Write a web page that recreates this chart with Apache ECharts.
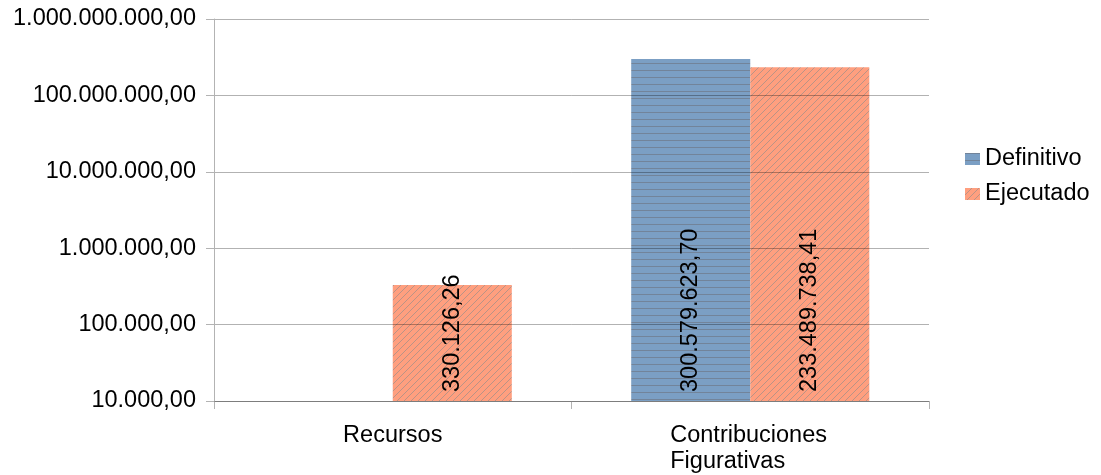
<!DOCTYPE html>
<html>
<head>
<meta charset="utf-8">
<script src="https://cdn.jsdelivr.net/npm/echarts@6/dist/echarts.min.js"></script>
<style>html,body{margin:0;padding:0;background:#fff}#c{width:1101px;height:475px}</style>
</head>
<body>
<div id="c"></div>
<script>
var categories = ['Recursos', 'Contribuciones\nFigurativas'];
var definitivo = [null, 300579623.70];
var ejecutado = [330126.26, 233489738.41];
var seriesNames = ['Definitivo', 'Ejecutado'];

function fmt(v) {
  var s = Number(v).toFixed(2);
  var parts = s.split('.');
  var ip = parts[0].replace(/\B(?=(\d{3})+(?!\d))/g, '.');
  return ip + ',' + parts[1];
}

function hPattern() {
  var c = document.createElement('canvas');
  c.width = 8; c.height = 7;
  var g = c.getContext('2d');
  g.fillStyle = '#7b9fc4';
  g.fillRect(0, 0, 8, 7);
  g.fillStyle = '#72849a';
  g.fillRect(0, 0, 8, 1);
  return c;
}
function dPattern() {
  var c = document.createElement('canvas');
  c.width = 7; c.height = 7;
  var g = c.getContext('2d');
  g.fillStyle = '#ff9f7f';
  g.fillRect(0, 0, 7, 7);
  g.strokeStyle = '#8c8c8c';
  g.lineWidth = 0.6;
  g.beginPath();
  g.moveTo(-1, 8); g.lineTo(8, -1);
  g.moveTo(-1, 1); g.lineTo(1, -1);
  g.moveTo(6, 8); g.lineTo(8, 6);
  g.stroke();
  return c;
}

var font = 'Liberation Sans, Arial, sans-serif';
var fs = 23.5;
var chart = echarts.init(document.getElementById('c'), null, {renderer: 'canvas'});
var labelCfg = {
  show: true, position: 'insideBottom', rotate: 90, align: 'left', verticalAlign: 'middle',
  distance: 9, fontSize: fs, fontFamily: font, color: '#000',
  formatter: function (p) { return fmt(p.value); }
};
chart.setOption({
  animation: false,
  textStyle: {fontFamily: font},
  grid: {left: 214, right: 172, top: 19, bottom: 74},
  legend: {
    orient: 'vertical', left: 960, top: 142, icon: 'rect',
    itemWidth: 15, itemHeight: 12, itemGap: 11,
    textStyle: {fontSize: fs, fontFamily: font, color: '#000'},
    data: seriesNames
  },
  xAxis: {
    type: 'category', data: categories,
    axisLine: {lineStyle: {color: '#b3b3b3'}},
    axisTick: {show: true, length: 8, lineStyle: {color: '#b3b3b3'}},
    axisLabel: {
      margin: 22, color: '#000', fontSize: fs, fontFamily: font, lineHeight: 26,
      formatter: function (v) {
        var lines = v.split('\n');
        if (lines.length === 1) return v;
        return lines.map(function (l) { return '{a|' + l + '}'; }).join('\n');
      },
      rich: {a: {width: 160, align: 'left', fontSize: fs, fontFamily: font, lineHeight: 26, color: '#000'}}
    }
  },
  yAxis: {
    type: 'log', logBase: 10, min: 10000, max: 1000000000, z: 3,
    axisLine: {show: true, lineStyle: {color: '#b3b3b3'}},
    axisTick: {show: true, length: 8, lineStyle: {color: '#b3b3b3'}},
    splitLine: {show: true, lineStyle: {color: 'rgba(0,0,0,0.3)'}},
    axisLabel: {margin: 18, color: '#000', fontSize: fs, fontFamily: font, formatter: function (v) { return fmt(v); }}
  },
  series: [
    {name: seriesNames[0], type: 'bar', data: definitivo, barGap: '0%', barCategoryGap: '33.4%',
     itemStyle: {color: {image: hPattern(), repeat: 'repeat'}}, label: labelCfg},
    {name: seriesNames[1], type: 'bar', data: ejecutado, barGap: '0%', barCategoryGap: '33.4%',
     itemStyle: {color: {image: dPattern(), repeat: 'repeat'}}, label: labelCfg}
  ]
});
</script>
</body>
</html>
